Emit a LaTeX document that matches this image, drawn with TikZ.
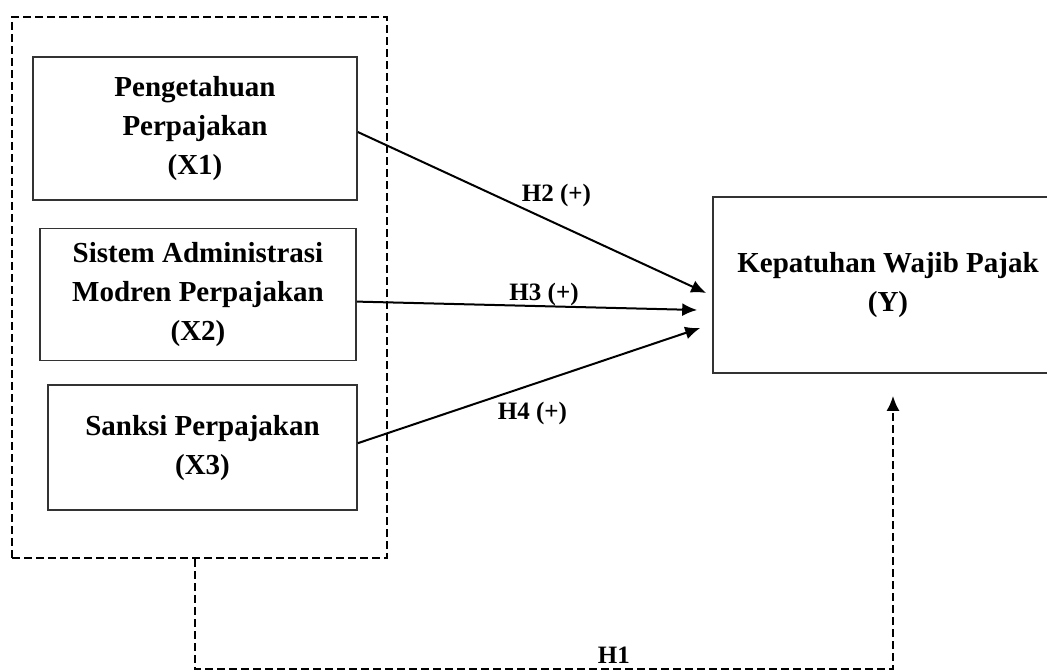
\documentclass[tikz,border=0pt]{standalone}
\usepackage{fontspec}
\setmainfont{Liberation Serif}
\usetikzlibrary{arrows.meta, positioning}

\begin{document}
\begin{tikzpicture}[x=1pt, y=-1pt,
            % Styles
            varbox/.style={rectangle, draw=black!80, line width=1.6pt, align=center, inner sep=0pt, font=\bfseries\fontsize{29}{39}\selectfont},
            grpbox/.style={rectangle, draw=black, line width=2.2pt, dash pattern=on 8pt off 4pt, inner sep=0pt},
            hlabel/.style={font=\bfseries\fontsize{25}{30}\selectfont, inner sep=2pt},
            line/.style={draw, -{Latex[length=15pt,width=13pt]}, line width=2pt},
            dashedline/.style={draw, -{Latex[length=15pt,width=13pt]}, line width=2.2pt, dash pattern=on 8pt off 4pt}
        ]
        \useasboundingbox (0,0) rectangle (1047,671);
        \clip (0,0) rectangle (1047,671);

        % Nodes
        \node [varbox, minimum width=324pt, minimum height=143pt] (x1) at (195,128.5) {
            Pengetahuan\\
            Perpajakan\\
            (X1)
        };

        \node [varbox, minimum width=316pt, minimum height=132pt, below=27pt of x1, xshift=3pt] (x2) {
            Sistem Administrasi\\
            Modren Perpajakan\\
            (X2)
        };

        \node [varbox, minimum width=309pt, minimum height=125pt, below=23pt of x2, xshift=4.5pt] (x3) {
            Sanksi Perpajakan\\
            (X3)
        };

        % Dependent variable
        \node [varbox, minimum width=350pt, minimum height=176pt] (kwp) at (888,285) {
            Kepatuhan Wajib Pajak\\
            (Y)
        };

        % Group of X variables
        \node [grpbox, minimum width=375pt, minimum height=541pt] (grp) at (199.5,287.5) {};

        % Edges
        \path [line] ([yshift=-3.5pt]x1.east) -- node[hlabel, pos=0.57, above=14pt] {H2 (+)} ([xshift=-6pt,yshift=-8pt]kwp.west);
        \path [line] ([yshift=-7pt]x2.east) -- node[hlabel, pos=0.55, above, yshift=-3pt] {H3 (+)} ([xshift=-15pt,yshift=-25pt]kwp.west);
        \path [line] ([yshift=4.5pt]x3.east) -- node[hlabel, pos=0.51, below=15pt] {H4 (+)} ([xshift=-12pt,yshift=-43pt]kwp.west);
        \path [dashedline] ([xshift=-4.5pt]grp.south) -- ++(0,110) -| node[hlabel, pos=0.3, above=3pt] {H1} ([xshift=5pt,yshift=-22pt]kwp.south);

    \end{tikzpicture}
\end{document}
